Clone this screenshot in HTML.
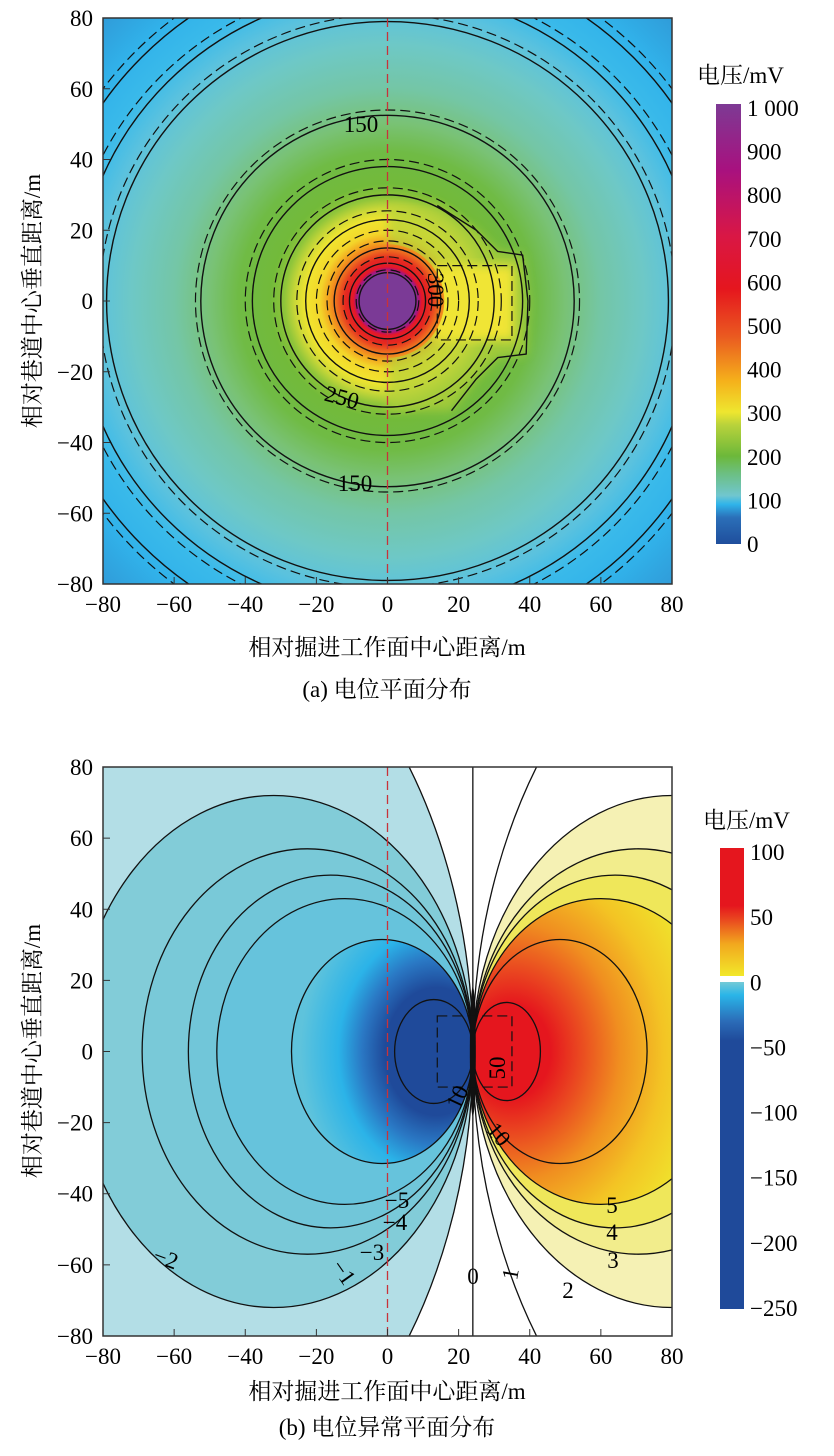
<!DOCTYPE html>
<html><head><meta charset="utf-8"><style>
html,body{margin:0;padding:0;background:#fff;width:834px;height:1456px;overflow:hidden}
svg{display:block}
text{font-family:"Liberation Serif","Noto Serif CJK SC",serif;fill:#000}
.cjk{font-family:"Liberation Serif","Noto Serif CJK SC","Noto Sans CJK SC",serif}
</style></head><body>
<svg id="fig" width="834" height="1456" viewBox="0 0 834 1456" xmlns="http://www.w3.org/2000/svg">
<defs>
<clipPath id="clipA"><rect x="103" y="18" width="569" height="566"/></clipPath>
<clipPath id="clipB"><rect x="103" y="767" width="569" height="569"/></clipPath>
<linearGradient id="cbA" x1="0" y1="1" x2="0" y2="0">
<stop offset="0" stop-color="#1f4e9c"/><stop offset="0.06" stop-color="#2b6fb8"/><stop offset="0.09" stop-color="#2fb4ea"/>
<stop offset="0.11" stop-color="#70c6cf"/><stop offset="0.16" stop-color="#6cbf82"/><stop offset="0.2" stop-color="#6cb83a"/>
<stop offset="0.27" stop-color="#b8d23b"/><stop offset="0.3" stop-color="#eee62f"/><stop offset="0.37" stop-color="#f5b11b"/>
<stop offset="0.47" stop-color="#ea5b20"/><stop offset="0.58" stop-color="#e5161e"/><stop offset="0.7" stop-color="#d91745"/>
<stop offset="0.85" stop-color="#a8117f"/><stop offset="1" stop-color="#7d3a94"/>
</linearGradient>
<linearGradient id="cbBpos" x1="0" y1="1" x2="0" y2="0">
<stop offset="0" stop-color="#f2e82a"/><stop offset="0.25" stop-color="#f2a81e"/><stop offset="0.45" stop-color="#e9431f"/><stop offset="0.55" stop-color="#e5161e"/><stop offset="1" stop-color="#e5161e"/>
</linearGradient>
<linearGradient id="cbBneg" x1="0" y1="0" x2="0" y2="1">
<stop offset="0" stop-color="#75cad6"/><stop offset="0.04" stop-color="#2ab5e8"/><stop offset="0.12" stop-color="#2b6cb8"/><stop offset="0.18" stop-color="#1f4a9a"/><stop offset="1" stop-color="#1f4a9a"/>
</linearGradient>
<radialGradient id="negCore" cx="0.8" cy="0.5" r="0.75">
<stop offset="0" stop-color="#1f4a9a"/><stop offset="0.38" stop-color="#1f4a9a"/><stop offset="0.55" stop-color="#2a78c4"/><stop offset="0.72" stop-color="#2bb3e8"/><stop offset="1" stop-color="#5ec3dc"/>
</radialGradient>
<radialGradient id="posCore" cx="0.15" cy="0.5" r="0.85">
<stop offset="0" stop-color="#e5161e"/><stop offset="0.18" stop-color="#e5161e"/><stop offset="0.32" stop-color="#ea4a20"/><stop offset="0.5" stop-color="#f08f20"/><stop offset="0.7" stop-color="#f3c424"/><stop offset="0.88" stop-color="#f0e02c"/><stop offset="1" stop-color="#efe62e"/>
</radialGradient>
<filter id="blur"><feGaussianBlur stdDeviation="5"/></filter>
</defs>
<g id="panelA"></g>
<g id="panelB"></g>
</svg>
<script>
// ---------- data ----------
const xTicks = [-80,-60,-40,-20,0,20,40,60,80];
const yTicks = [-80,-60,-40,-20,0,20,40,60,80];
// panel a: contour radii (m) of solid and dashed circular contours
const aSolidRadii = [8, 10.7, 15, 23, 30, 38, 52.5, 79, 87.5, 97.6];
const aDashedRadii = [8.8, 12.5, 17, 20, 25.5, 32, 40, 54, 81, 90, 100];
// panel a: radial colour profile (radius m -> colour)
const aColorRadius = [0, 8, 8.8, 9.6, 12, 14, 16.5, 19, 23, 26, 29, 33, 42, 50, 60, 72, 82, 90, 100, 115];
const aColorValue = ["#7b3a96","#7b3a96","#a8137e","#e3172a","#e52a1f","#ec6320","#f3a01e","#f3d52a","#f1e52f","#cbd838","#8fc53a","#72ba3a","#70bb45","#79c275","#74c6a6","#6ec8c6","#5bc2de","#3abaea","#31b2ea","#2f98d6"];
// panel a: right "bulge" contour around the face box (x,y in m)
const bulgeX = [14, 25, 31, 38, 39.5, 39, 31, 25, 18];
const bulgeY = [27, 20, 14, 13, 0, -15, -16, -22, -31];
const boxA = [14, 35, -11, 10];
const colorbarATicks = [0,100,200,300,400,500,600,700,800,900,1000];
const colorbarALabels = ["0","100","200","300","400","500","600","700","800","900","1 000"];
// panel b: contour levels with extent L (m, from dipole point) and half-height H (m)
const dipoleX = 24;
const bNegLevels = [-1, -2, -3, -4, -5, -10, -50];
const bNegL = [200, 112, 93, 80, 72, 51, 22];
const bNegH = [140, 72, 57, 49.6, 43, 31.5, 14.6];
const bPosLevels = [1, 2, 3, 4, 5, 10, 50];
const bPosL = [200, 112, 93, 80, 72, 49, 19];
const bPosH = [140, 72, 57, 49.6, 43, 31.5, 13.8];
const bNegFill = ["#b3dee6","#82ccd8","#79c9d8","#71c6d9","#66c3dc","url(#negCore)","#1f4a9a"];
const bPosFill = ["#ffffff","#f5f1b4","#f2ed8c","#efe75a","url(#posCore)","none","#e5161e"];
const boxB = [14, 35, -10, 10];
const colorbarBTicks = [100,50,0,-50,-100,-150,-200,-250];

// ---------- helpers ----------
const NS = "http://www.w3.org/2000/svg";
function mk(tag, parent){ const e = document.createElementNS(NS, tag); parent.appendChild(e); return e; }
const XA = u => 387.5 + u*3.556, YA = v => 301 - v*3.5375;
const XB = u => 387.5 + u*3.556, YB = v => 1051.5 - v*3.556;

function axes(g, X, Y, top, bottom, titleY, caption, capY, ytitleY){
  const fr = mk('rect', g);
   
  fr.setAttribute('x',103); fr.setAttribute('y',top); fr.setAttribute('width',569); fr.setAttribute('height',bottom-top);
  fr.setAttribute('fill','none'); fr.setAttribute('stroke','#333'); fr.setAttribute('stroke-width','1.5');
  xTicks.forEach(t=>{
    const l = mk('line', g);
     
    l.setAttribute('x1',X(t)); l.setAttribute('x2',X(t)); l.setAttribute('y1',bottom); l.setAttribute('y2',bottom-7);
    l.setAttribute('stroke','#333');
    const tx = mk('text', g);
     
    tx.setAttribute('x',X(t)); tx.setAttribute('y',bottom+28); tx.setAttribute('text-anchor','middle'); tx.setAttribute('font-size','23');
    tx.textContent = t<0 ? '\u2212'+(-t) : String(t);
  });
  yTicks.forEach(t=>{
    const l = mk('line', g);
     
    l.setAttribute('x1',103); l.setAttribute('x2',110); l.setAttribute('y1',Y(t)); l.setAttribute('y2',Y(t));
    l.setAttribute('stroke','#333');
    const tx = mk('text', g);
     
    tx.setAttribute('x',93); tx.setAttribute('y',Y(t)+8); tx.setAttribute('text-anchor','end'); tx.setAttribute('font-size','23');
    tx.textContent = t<0 ? '\u2212'+(-t) : String(t);
  });
  const xt = mk('text', g);
   
  xt.setAttribute('class','cjk'); xt.setAttribute('x',387); xt.setAttribute('y',titleY); xt.setAttribute('text-anchor','middle'); xt.setAttribute('font-size','23');
  xt.textContent = '相对掘进工作面中心距离/m';
  const yt = mk('text', g);
   
  yt.setAttribute('class','cjk'); yt.setAttribute('text-anchor','middle'); yt.setAttribute('font-size','23');
  yt.setAttribute('transform','translate(40,'+ytitleY+') rotate(-90)');
  yt.textContent = '相对巷道中心垂直距离/m';
  const cp = mk('text', g);
   
  cp.setAttribute('class','cjk'); cp.setAttribute('x',387); cp.setAttribute('y',capY); cp.setAttribute('text-anchor','middle'); cp.setAttribute('font-size','23');
  cp.textContent = caption;
}
function label(g, x, y, txt, rot, size){
  const t = mk('text', g);
   
  t.setAttribute('text-anchor','middle'); t.setAttribute('font-size', size||23);
  t.setAttribute('transform','translate('+x+','+y+') rotate('+(rot||0)+')');
  t.setAttribute('dy','8');
  t.textContent = txt;
}

// ---------- panel A ----------
(function(){
  const g = document.getElementById('panelA');
  const pg = mk('g', g); pg.setAttribute('clip-path','url(#clipA)');
   
  const defs = document.querySelector('defs');
  const rg = mk('radialGradient', defs);
  rg.setAttribute('id','radA'); rg.setAttribute('gradientUnits','userSpaceOnUse');
  const R = 115*3.556;
  rg.setAttribute('cx',XA(0)); rg.setAttribute('cy',YA(0)); rg.setAttribute('r',R);
  aColorRadius.forEach((r,i)=>{ const s = mk('stop', rg); s.setAttribute('offset', r/115); s.setAttribute('stop-color', aColorValue[i]); });
  const bg = mk('rect', pg);
   
  bg.setAttribute('x',103); bg.setAttribute('y',18); bg.setAttribute('width',569); bg.setAttribute('height',566); bg.setAttribute('fill','url(#radA)');
  let d = 'M'+XA(0)+','+YA(bulgeY[0]);
  bulgeX.forEach((x,i)=>{ d += ' L'+XA(x)+','+YA(bulgeY[i]); });
  d += ' L'+XA(0)+','+YA(bulgeY[bulgeY.length-1])+' Z';
  const bf = mk('path', pg);
   
  bf.setAttribute('d', d); bf.setAttribute('fill','#b5d23a'); bf.setAttribute('opacity','0.7'); bf.setAttribute('filter','url(#blur)');
  const yb = mk('rect', pg);
   
  yb.setAttribute('x',XA(boxA[0])-4); yb.setAttribute('y',YA(boxA[3])); yb.setAttribute('width',XA(boxA[1])-XA(boxA[0])+6); yb.setAttribute('height',YA(boxA[2])-YA(boxA[3]));
  yb.setAttribute('fill','#f0e535'); yb.setAttribute('filter','url(#blur)');
  const ring = mk('circle', pg);
   
  ring.setAttribute('cx',XA(0)); ring.setAttribute('cy',YA(0)); ring.setAttribute('r',16*3.55); ring.setAttribute('fill','url(#radA)');
  const core = mk('circle', pg);
   
  core.setAttribute('cx',XA(0)); core.setAttribute('cy',YA(0)); core.setAttribute('r',7.8*3.55); core.setAttribute('fill','#7b3a96');
  aSolidRadii.forEach(r=>{
    const c = mk('ellipse', pg);
     
    c.setAttribute('cx',XA(0)); c.setAttribute('cy',YA(0)); c.setAttribute('rx',r*3.556); c.setAttribute('ry',r*3.5375);
    c.setAttribute('fill','none'); c.setAttribute('stroke','#111'); c.setAttribute('stroke-width','1.4');
  });
  aDashedRadii.forEach(r=>{
    const c = mk('ellipse', pg);
     
    c.setAttribute('cx',XA(0)); c.setAttribute('cy',YA(0)); c.setAttribute('rx',r*3.556); c.setAttribute('ry',r*3.5375);
    c.setAttribute('fill','none'); c.setAttribute('stroke','#111'); c.setAttribute('stroke-width','1.2'); c.setAttribute('stroke-dasharray','10,5');
  });
  const bl = mk('path', pg);
   
  let d2 = 'M'+XA(bulgeX[0])+','+YA(bulgeY[0]);
  bulgeX.forEach((x,i)=>{ if(i>0) d2 += ' L'+XA(x)+','+YA(bulgeY[i]); });
  bl.setAttribute('d', d2); bl.setAttribute('fill','none'); bl.setAttribute('stroke','#111'); bl.setAttribute('stroke-width','1.4'); bl.setAttribute('stroke-linejoin','round');
  const bx = mk('rect', pg);
   
  bx.setAttribute('x',XA(boxA[0])); bx.setAttribute('y',YA(boxA[3])); bx.setAttribute('width',XA(boxA[1])-XA(boxA[0])); bx.setAttribute('height',YA(boxA[2])-YA(boxA[3]));
  bx.setAttribute('fill','none'); bx.setAttribute('stroke','#111'); bx.setAttribute('stroke-width','1.2'); bx.setAttribute('stroke-dasharray','10,5');
  const rl = mk('line', pg);
   
  rl.setAttribute('x1',XA(0)); rl.setAttribute('x2',XA(0)); rl.setAttribute('y1',18); rl.setAttribute('y2',584);
  rl.setAttribute('stroke','#c8323a'); rl.setAttribute('stroke-width','1.3'); rl.setAttribute('stroke-dasharray','9,5');
  [[361,124,'150',0],[436,290,'300',90],[342,397,'250',15],[355,483,'150',0]].forEach(p=>label(pg,p[0],p[1],p[2],p[3]));
  axes(g, XA, YA, 18, 584, 655, '(a)  电位平面分布', 697, 301);
  const ct = mk('text', g);
   
  ct.setAttribute('class','cjk'); ct.setAttribute('x',697); ct.setAttribute('y',83); ct.setAttribute('font-size','23');
  ct.textContent = '电压/mV';
  const cb = mk('rect', g);
   
  cb.setAttribute('x',716); cb.setAttribute('y',104); cb.setAttribute('width',25); cb.setAttribute('height',440); cb.setAttribute('fill','url(#cbA)');
  colorbarATicks.forEach((v,i)=>{
    const t = mk('text', g);
     
    t.setAttribute('x',747); t.setAttribute('y',544 - v/1000*436 + 8); t.setAttribute('font-size','23');
    t.textContent = colorbarALabels[i];
  });
})();

// ---------- panel B ----------
(function(){
  const g = document.getElementById('panelB');
  const pg = mk('g', g); pg.setAttribute('clip-path','url(#clipB)');
   
  const bg = mk('rect', pg);
   
  bg.setAttribute('x',103); bg.setAttribute('y',767); bg.setAttribute('width',569); bg.setAttribute('height',569); bg.setAttribute('fill','#fff');
  function lobe(lv, L, H, fill, sign, stroke){
    const cx = dipoleX + sign*L/2;
    const e = mk('ellipse', pg);
    
    
    e.setAttribute('cx',XB(cx)); e.setAttribute('cy',YB(0)); e.setAttribute('rx',L/2*3.556); e.setAttribute('ry',H*3.556);
    e.setAttribute('fill', stroke ? 'none' : fill);
    if(stroke){ e.setAttribute('stroke','#111'); e.setAttribute('stroke-width','1.3'); }
  }
  bNegLevels.forEach((lv,i)=>lobe(lv,bNegL[i],bNegH[i],bNegFill[i],-1,false));
  bPosLevels.forEach((lv,i)=>lobe(lv,bPosL[i],bPosH[i],bPosFill[i],1,false));
  bNegLevels.forEach((lv,i)=>lobe(lv,bNegL[i],bNegH[i],null,-1,true));
  bPosLevels.forEach((lv,i)=>lobe(lv,bPosL[i],bPosH[i],null,1,true));
  const zl = mk('line', pg);
   
  zl.setAttribute('x1',XB(dipoleX)); zl.setAttribute('x2',XB(dipoleX)); zl.setAttribute('y1',767); zl.setAttribute('y2',1336);
  zl.setAttribute('stroke','#111'); zl.setAttribute('stroke-width','1.3');
  const pinch = mk('ellipse', pg);
   
  pinch.setAttribute('cx',XB(dipoleX)); pinch.setAttribute('cy',YB(0)); pinch.setAttribute('rx',3); pinch.setAttribute('ry',65); pinch.setAttribute('fill','#111');
  const bx = mk('rect', pg);
   
  bx.setAttribute('x',XB(boxB[0])); bx.setAttribute('y',YB(boxB[3])); bx.setAttribute('width',XB(boxB[1])-XB(boxB[0])); bx.setAttribute('height',YB(boxB[2])-YB(boxB[3]));
  bx.setAttribute('fill','none'); bx.setAttribute('stroke','#111'); bx.setAttribute('stroke-width','1.2'); bx.setAttribute('stroke-dasharray','10,5');
  const rl = mk('line', pg);
   
  rl.setAttribute('x1',XB(0)); rl.setAttribute('x2',XB(0)); rl.setAttribute('y1',767); rl.setAttribute('y2',1336);
  rl.setAttribute('stroke','#c8323a'); rl.setAttribute('stroke-width','1.3'); rl.setAttribute('stroke-dasharray','9,5');
  [[397,1200,'\u22125',0],[395,1222,'\u22124',0],[372,1252,'\u22123',0],[166,1258,'\u22122',20],[344,1272,'\u22121',55],
   [473,1276,'0',0],[510,1274,'1',-80],[568,1290,'2',0],[613,1260,'3',0],[612,1232,'4',0],[612,1205,'5',0],
   [457,1097,'10',-65],[499,1134,'10',50],[497,1068,'50',-90]].forEach(p=>label(pg,p[0],p[1],p[2],p[3]));
  axes(g, XB, YB, 767, 1336, 1399, '(b)  电位异常平面分布', 1435, 1051);
  const ct = mk('text', g);
   
  ct.setAttribute('class','cjk'); ct.setAttribute('x',703); ct.setAttribute('y',828); ct.setAttribute('font-size','23');
  ct.textContent = '电压/mV';
  const cp = mk('rect', g);
   
  cp.setAttribute('x',720); cp.setAttribute('y',848); cp.setAttribute('width',24); cp.setAttribute('height',128); cp.setAttribute('fill','url(#cbBpos)');
  const cn = mk('rect', g);
   
  cn.setAttribute('x',720); cn.setAttribute('y',982); cn.setAttribute('width',24); cn.setAttribute('height',327); cn.setAttribute('fill','url(#cbBneg)');
  colorbarBTicks.forEach(v=>{
    const t = mk('text', g);
     
    t.setAttribute('x',750); t.setAttribute('y',852 + (100-v)/350*456 + 8); t.setAttribute('font-size','23');
    t.textContent = v<0 ? '\u2212'+(-v) : String(v);
  });
})();
</script>
</body></html>
